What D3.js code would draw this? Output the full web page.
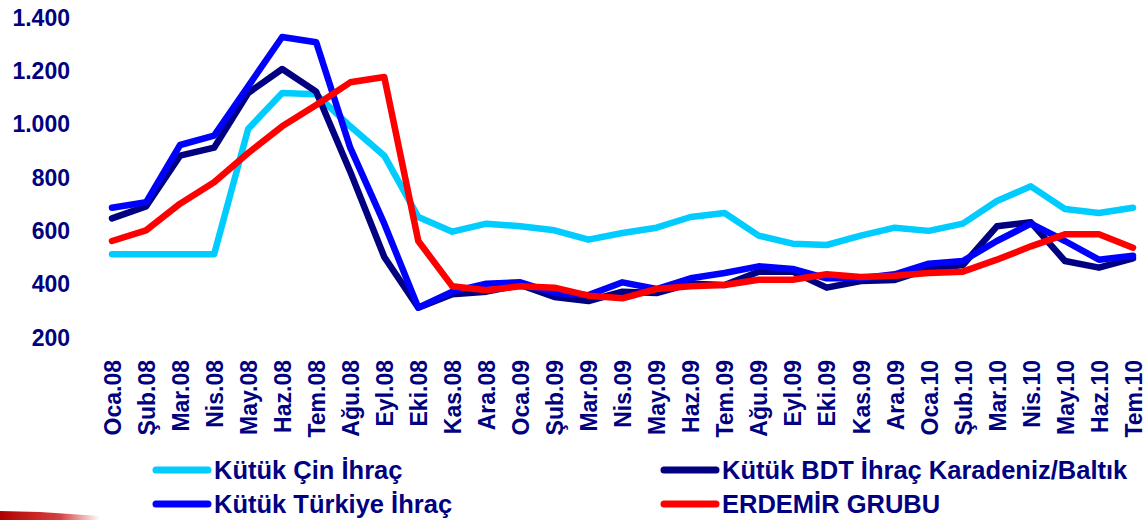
<!DOCTYPE html>
<html>
<head>
<meta charset="utf-8">
<script src="https://cdn.jsdelivr.net/npm/d3@7"></script>
<style>
  body { margin: 0; background: #fff; }
  svg text { font-family: "Liberation Sans", Arial, sans-serif; font-weight: bold; fill: #000080; }
</style>
</head>
<body>
<div id="viz"></div>
<script>
var width = 1144, height = 520;

var months = ["Oca.08","Şub.08","Mar.08","Nis.08","May.08","Haz.08","Tem.08","Ağu.08","Eyl.08","Eki.08","Kas.08","Ara.08",
              "Oca.09","Şub.09","Mar.09","Nis.09","May.09","Haz.09","Tem.09","Ağu.09","Eyl.09","Eki.09","Kas.09","Ara.09",
              "Oca.10","Şub.10","Mar.10","Nis.10","May.10","Haz.10","Tem.10"];

var yTicks = [200, 400, 600, 800, 1000, 1200, 1400];

var cin      = [510,510,510,510,980,1115,1110,990,880,650,595,625,615,600,565,590,610,650,665,580,550,545,580,610,598,625,710,765,680,665,685];
var bdt      = [645,690,880,910,1115,1205,1120,820,500,310,360,370,395,350,335,370,365,400,395,445,445,385,410,414,455,470,615,630,485,460,495];
var turkiye  = [685,705,920,955,1140,1325,1305,910,625,310,370,400,405,365,357,405,380,420,440,465,455,420,420,435,475,485,560,625,560,490,505];
var erdemir  = [560,600,700,780,890,990,1070,1155,1175,560,390,375,390,385,355,345,380,390,395,415,415,435,425,430,440,445,490,540,585,585,535];

var seriesNames  = ["Kütük Çin İhraç", "Kütük BDT İhraç Karadeniz/Baltık", "Kütük Türkiye İhraç", "ERDEMİR GRUBU"];
var seriesColors = ["#00CCFF", "#000080", "#0000FF", "#FF0000"];
var seriesData   = [cin, bdt, turkiye, erdemir];

var x = d3.scalePoint().domain(months).range([112, 1133]);
var y = d3.scaleLinear().domain([200, 1400]).range([337, 17]);

var svg = d3.select("#viz").append("svg")
  .attr("width", width)
  .attr("height", height);

// y axis labels only
var yAxis = d3.axisLeft(y)
  .tickValues(yTicks)
  .tickFormat(d => d3.format(",")(d).replace(",", "."))
  .tickSize(0).tickPadding(0);

svg.append("g")
  .attr("transform", "translate(70,0)")
  .call(yAxis)
  .call(g => g.select(".domain").remove())
  .call(g => g.selectAll("text")
    .attr("font-size", 23)
    .attr("font-family", null)
    .attr("dy", "0.36em"));

// x axis, rotated labels
var xAxis = d3.axisBottom(x).tickSize(0).tickPadding(0);

svg.append("g")
  .attr("transform", "translate(0,360)")
  .call(xAxis)
  .call(g => g.select(".domain").remove())
  .call(g => g.selectAll("text")
    .attr("font-size", 23)
    .attr("font-family", null)
    .attr("transform", "rotate(-90)")
    .attr("text-anchor", "end")
    .attr("x", 0)
    .attr("y", 0)
    .attr("dy", "0.36em"));

var line = d3.line()
  .x((d, i) => x(months[i]))
  .y(d => y(d));

seriesData.forEach(function(s, k) {
  svg.append("path")
    .datum(s)
    .attr("fill", "none")
    .attr("stroke", seriesColors[k])
    .attr("stroke-width", 6.5)
    .attr("stroke-linejoin", "round")
    .attr("stroke-linecap", "round")
    .attr("d", line);
});

// legend
var legendPos = [[153, 470], [661, 470], [153, 504], [661, 504]];
var legend = svg.append("g").attr("class", "legend");

seriesNames.forEach(function(name, k) {
  var p = legendPos[k];
  var item = legend.append("g").attr("transform", "translate(" + p[0] + "," + p[1] + ")");
  item.append("line")
    .attr("x1", 3).attr("x2", 55)
    .attr("stroke", seriesColors[k])
    .attr("stroke-width", 7)
    .attr("stroke-linecap", "round");
  item.append("text")
    .attr("x", 61)
    .attr("dy", "0.36em")
    .attr("font-size", 25.5)
    .text(name);
});

// red swoosh in corner
var defs = svg.append("defs");
var grad = defs.append("linearGradient").attr("id", "swoosh");
grad.append("stop").attr("offset", "0%").attr("stop-color", "#b00000");
grad.append("stop").attr("offset", "60%").attr("stop-color", "#d84040");
grad.append("stop").attr("offset", "100%").attr("stop-color", "#ffffff");
svg.append("path")
  .attr("d", "M0,511 L40,512 L100,516 L100,520 L0,520 Z")
  .attr("fill", "url(#swoosh)");
</script>
</body>
</html>
